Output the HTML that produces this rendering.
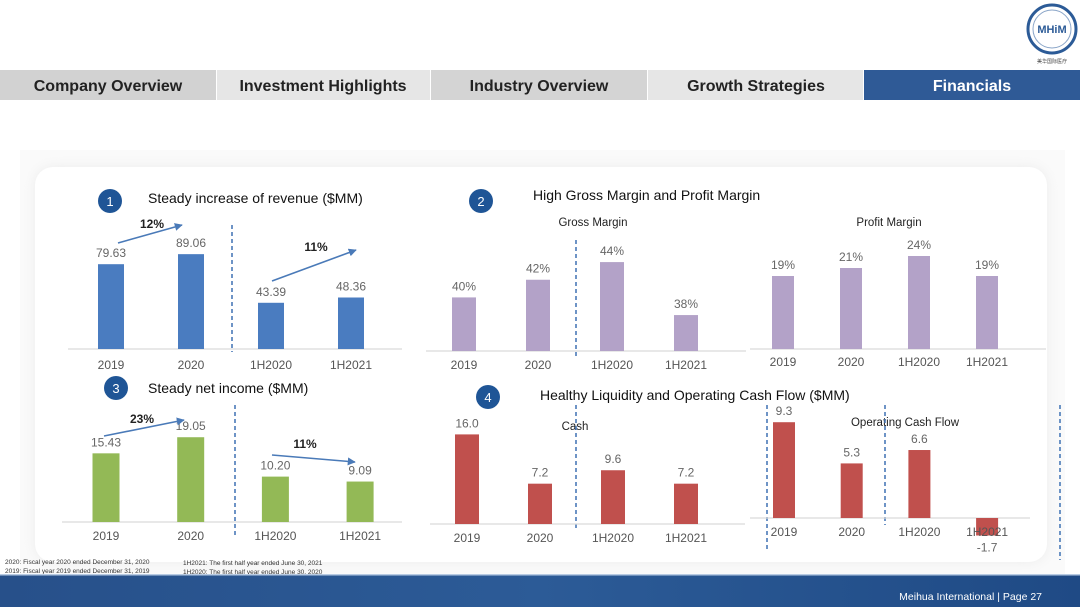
<!DOCTYPE html>
<html><head><meta charset="utf-8">
<style>
html,body{margin:0;padding:0;width:1080px;height:607px;overflow:hidden;background:#fff;font-family:"Liberation Sans",Arial,sans-serif;}
svg{display:block}
</style></head>
<body>
<svg id="s" width="1080" height="607" viewBox="0 0 1080 607" xmlns="http://www.w3.org/2000/svg">
<defs>
<linearGradient id="fg" x1="0" x2="1" y1="0" y2="0">
<stop offset="0" stop-color="#27508a"/><stop offset="0.5" stop-color="#2c5b97"/><stop offset="1" stop-color="#1f4a85"/>
</linearGradient>
<marker id="ah" viewBox="0 0 10 10" refX="9" refY="5" markerWidth="5" markerHeight="5" orient="auto"><path d="M0,0L10,5L0,10z" fill="#4a7ab8"/></marker>
<filter id="sh" x="-5%" y="-5%" width="110%" height="110%"><feGaussianBlur stdDeviation="6"/></filter>
</defs>
<g>
<circle cx="1052" cy="29" r="24" fill="#fff" stroke="#2c5b97" stroke-width="3"/>
<circle cx="1052" cy="29" r="19" fill="none" stroke="#8aa5c8" stroke-width="1"/>
<text x="1052" y="33" font-size="11" font-weight="bold" fill="#2c5b97" text-anchor="middle">MHiM</text>
<text x="1052" y="63" font-size="5" fill="#444" text-anchor="middle">美华国际医疗</text>
</g>
<g>
<rect x="0" y="70" width="216" height="30" fill="#d2d2d2"/>
<rect x="217" y="70" width="213" height="30" fill="#e6e6e6"/>
<rect x="431" y="70" width="216" height="30" fill="#d4d4d4"/>
<rect x="648" y="70" width="215" height="30" fill="#e6e6e6"/>
<rect x="864" y="70" width="216" height="30" fill="#2f5a96"/>
<g font-size="16" font-weight="bold" text-anchor="middle" fill="#222">
<text x="108" y="91">Company Overview</text>
<text x="323" y="91">Investment Highlights</text>
<text x="539" y="91">Industry Overview</text>
<text x="756" y="91">Growth Strategies</text>
<text x="972" y="91" fill="#fff">Financials</text>
</g>
</g>
<rect x="20" y="150" width="1045" height="425" fill="#fafafa"/>
<rect x="35" y="167" width="1012" height="395" rx="18" fill="#ececec" filter="url(#sh)"/>
<rect x="35" y="167" width="1012" height="395" rx="18" fill="#fff"/>
<g id="charts"></g>
<g font-size="6.5" fill="#333">
<text x="5" y="564">2020: Fiscal year 2020 ended December 31, 2020</text>
<text x="5" y="573">2019: Fiscal year 2019 ended December 31, 2019</text>
<text x="183" y="565">1H2021: The first half year ended June 30, 2021</text>
<text x="183" y="574">1H2020: The first half year ended June 30, 2020</text>
</g>
<rect x="0" y="575" width="1080" height="32" fill="url(#fg)"/>
<rect x="0" y="574" width="1080" height="1.5" fill="#b8cbe3"/>
<text x="1042" y="600" font-size="10.5" fill="#fff" text-anchor="end">Meihua International | Page 27</text>
</svg>
<script>
const cats = ["2019","2020","1H2020","1H2021"];
const revenue = [79.63, 89.06, 43.39, 48.36];
const revenueLabels = ["79.63","89.06","43.39","48.36"];
const netIncome = [15.43, 19.05, 10.20, 9.09];
const netIncomeLabels = ["15.43","19.05","10.20","9.09"];
const grossMargin = [40, 42, 44, 38];
const profitMargin = [19, 21, 24, 19];
const cash = [16.0, 7.2, 9.6, 7.2];
const opCashFlow = [9.3, 5.3, 6.6, -1.7];

const NS="http://www.w3.org/2000/svg";
const G=document.getElementById('charts');
function mk(tag,at,parent){const e=document.createElementNS(NS,tag);for(const k in at)e.setAttribute(k,at[k]);(parent||G).appendChild(e);return e;}
function txt(x,y,s,size,fill,anchor,weight){const t=mk('text',{x:x,y:y,'font-size':size,fill:fill||'#555','text-anchor':anchor||'middle'});if(weight)t.setAttribute('font-weight',weight);t.textContent=s;return t;}

function chart(o){
  const g=mk('g',{});
  
  
  const ax=mk('line',{x1:o.ax0,x2:o.ax1,y1:o.base,y2:o.base,stroke:'#d9d9d9','stroke-width':1.2},g);
  
  
  o.vals.forEach((v,i)=>{
    const cx=o.x0+i*o.dx;
    const h=(v-o.vmin)*o.scale;
    const y=h>=0?o.base-h:o.base;
    const r=mk('rect',{x:cx-o.bw/2,y:y,width:o.bw,height:Math.abs(h),fill:o.color},g);
    
    
    const lab=o.labels?o.labels[i]:(o.fmt?o.fmt(v):String(v));
    const ly=h>=0?y-7:o.base+Math.abs(h)+16;
    const t=txt(cx,ly,lab,12,'#666','middle');
    
    
    const c=txt(cx,o.base+o.labOff,cats[i],12,'#555','middle');
    
    
  });
  return g;
}
function dash(x,y1,y2){const l=mk('line',{x1:x,x2:x,y1:y1,y2:y2,stroke:'#4a7ab8','stroke-width':1.6,'stroke-dasharray':'4,3'});}
function arrow(x1,y1,x2,y2,lab,lx,ly){const l=mk('line',{x1:x1,y1:y1,x2:x2,y2:y2,stroke:'#4a7ab8','stroke-width':1.6,'marker-end':'url(#ah)'});const t=txt(lx,ly,lab,12,'#222','middle','bold');}
function badge(x,y,n,title,tx,ty){const c=mk('circle',{cx:x,cy:y,r:12,fill:'#1f5596'});txt(x,y+5,n,13,'#fff','middle');const t=txt(tx,ty,title,14,'#111','start');}

badge(110,201,'1','Steady increase of revenue ($MM)',148,203);
dash(232,225,352);
chart({name:'revenue-chart',vals:revenue,labels:revenueLabels,x0:111,dx:80,bw:26,base:349,scale:1.065,vmin:0,color:'#4a7cc0',ax0:68,ax1:402,labOff:20});
arrow(118,243,182,225,'12%',152,228);
arrow(272,281,356,250,'11%',316,251);

badge(116,388,'3','Steady net income ($MM)',148,393);
dash(235,405,537);
chart({name:'net-income-chart',vals:netIncome,labels:netIncomeLabels,x0:106,dx:84.7,bw:27,base:522,scale:4.45,vmin:0,color:'#93b956',ax0:62,ax1:402,labOff:18});
arrow(104,436,184,420,'23%',142,423);
arrow(272,455,355,462,'11%',305,448);

badge(481,201,'2','High Gross Margin and Profit Margin',533,200);
txt(593,226,'Gross Margin',11.5,'#222','middle');
dash(576,240,356);
chart({name:'gross-margin-chart',vals:grossMargin,fmt:v=>v+'%',x0:464,dx:74,bw:24,base:351,scale:8.83,vmin:33.93,color:'#b3a2c8',ax0:426,ax1:746,labOff:18});
txt(889,226,'Profit Margin',11.5,'#222','middle');
chart({name:'profit-margin-chart',vals:profitMargin,fmt:v=>v+'%',x0:783,dx:68,bw:22,base:349,scale:4,vmin:0.75,color:'#b3a2c8',ax0:750,ax1:1046,labOff:17});

badge(488,397,'4','Healthy Liquidity and Operating Cash Flow ($MM)',540,400);
txt(575,430,'Cash',11.5,'#222','middle');
dash(576,405,530);
chart({name:'cash-chart',vals:cash,fmt:v=>v.toFixed(1),x0:467,dx:73,bw:24,base:524,scale:5.6,vmin:0,color:'#c0504d',ax0:430,ax1:745,labOff:18});
txt(905,426,'Operating Cash Flow',11.5,'#222','middle');
dash(767,405,552);dash(885,405,525);dash(1060,405,560);
chart({name:'operating-cash-flow-chart',vals:opCashFlow,fmt:v=>v.toFixed(1),x0:784,dx:67.7,bw:22,base:518,scale:10.3,vmin:0,color:'#c0504d',ax0:750,ax1:1030,labOff:18});
</script>
</body></html>
